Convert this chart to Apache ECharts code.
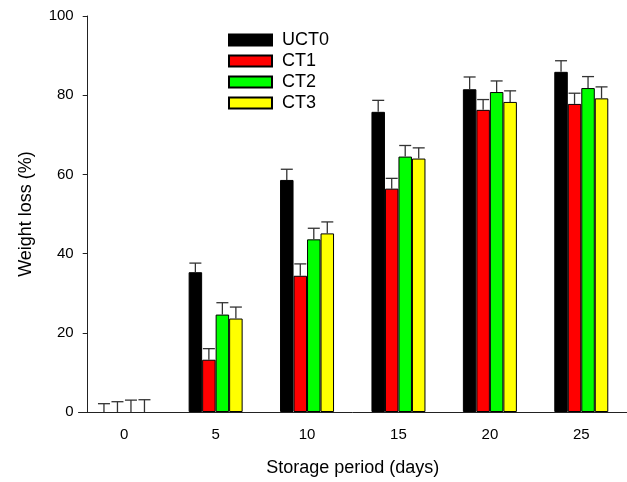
<!DOCTYPE html>
<html>
<head>
<meta charset="utf-8">
<script src="https://cdn.jsdelivr.net/npm/echarts@6/dist/echarts.min.js"></script>
<style>html,body{margin:0;padding:0;background:#fff}#c{width:627px;height:482px}</style>
</head>
<body>
<div id="c"></div>
<script>
const categories = ['0', '5', '10', '15', '20', '25'];
const seriesNames = ['UCT0', 'CT1', 'CT2', 'CT3'];
const uct0 = [0, 35.3, 58.6, 75.8, 81.5, 85.9];
const ct1 = [0, 13.2, 34.4, 56.4, 76.3, 77.8];
const ct2 = [0, 24.6, 43.6, 64.5, 80.8, 81.8];
const ct3 = [0, 23.6, 45.1, 64.0, 78.3, 79.2];
const uct0Err = [2.1, 2.3, 2.7, 2.9, 3.1, 2.8];
const ct1Err = [2.6, 2.8, 3.0, 2.6, 2.6, 2.7];
const ct2Err = [3.0, 3.0, 2.8, 2.8, 2.8, 2.9];
const ct3Err = [3.1, 2.9, 2.9, 2.7, 2.8, 2.9];
const yTicks = [0, 20, 40, 60, 80, 100];

const values = [uct0, ct1, ct2, ct3];
const errors = [uct0Err, ct1Err, ct2Err, ct3Err];
const colors = ['#000000', '#ff0000', '#00ff00', '#ffff00'];
const BAR_W = 13.5;
const FONT = '"Liberation Sans", Arial, sans-serif';

const errData = [];
values.forEach((vals, s) => {
  vals.forEach((v, i) => errData.push([i, v, errors[s][i], s]));
});

const chart = echarts.init(document.getElementById('c'));
const barSeries = seriesNames.map((name, s) => ({
  name: name,
  type: 'bar',
  data: values[s].map(v => v === 0 ? { value: v, itemStyle: { borderWidth: 0 } } : v),
  barWidth: BAR_W,
  barGap: '0%',
  itemStyle: { color: colors[s], borderColor: '#000', borderWidth: 1 },
  emphasis: { disabled: true },
  animation: false
}));

chart.setOption({
  animation: false,
  textStyle: { fontFamily: FONT },
  grid: { left: 78.5, right: -1, top: 16, bottom: 68.5, containLabel: false },
  legend: {
    orient: 'vertical',
    left: 228,
    top: 31,
    padding: 0,
    itemWidth: 43,
    itemHeight: 11,
    itemGap: 3,
    icon: 'rect',
    data: seriesNames,
    textStyle: { fontSize: 18, color: '#000', fontFamily: FONT, padding: [0, 0, 0, 5] },
    selectedMode: false
  },
  xAxis: {
    type: 'category',
    data: categories,
    name: 'Storage period (days)',
    nameLocation: 'middle',
    nameGap: 47,
    nameTextStyle: { fontSize: 18, color: '#000', fontFamily: FONT },
    axisLine: { lineStyle: { color: '#222', width: 1 } },
    axisTick: { alignWithLabel: true, inside: false, length: 6, lineStyle: { color: '#222' } },
    axisLabel: { fontSize: 15, color: '#000', margin: 15, fontFamily: FONT },
    splitLine: { show: false }
  },
  yAxis: {
    type: 'value',
    min: 0,
    max: 100,
    interval: 20,
    offset: -9.2,
    name: 'Weight loss (%)',
    nameLocation: 'middle',
    nameGap: 53,
    nameRotate: 90,
    nameTextStyle: { fontSize: 18, color: '#000', fontFamily: FONT },
    axisLine: { show: true, lineStyle: { color: '#222', width: 1 } },
    axisTick: { show: true, inside: false, length: 5, lineStyle: { color: '#222' } },
    axisLabel: { fontSize: 15, color: '#000', margin: 14, fontFamily: FONT,
      formatter: v => yTicks.includes(v) ? String(v) : '' },
    splitLine: { show: false }
  },
  series: barSeries.concat([{
    type: 'custom',
    name: 'err',
    data: errData,
    z: 5,
    silent: true,
    encode: { x: 0, y: 1 },
    renderItem: function (params, api) {
      const cat = api.value(0);
      const v = api.value(1);
      const e = api.value(2);
      const s = api.value(3);
      const base = api.coord([cat, v]);
      const top = api.coord([cat, v + e]);
      const x = base[0] + (s - 1.5) * BAR_W;
      const half = 6;
      const st = { stroke: '#333', lineWidth: 1.3 };
      return {
        type: 'group',
        children: [
          { type: 'line', shape: { x1: x, y1: base[1], x2: x, y2: top[1] }, style: st },
          { type: 'line', shape: { x1: x - half, y1: top[1], x2: x + half, y2: top[1] }, style: st }
        ]
      };
    }
  }])
});
</script>
</body>
</html>
